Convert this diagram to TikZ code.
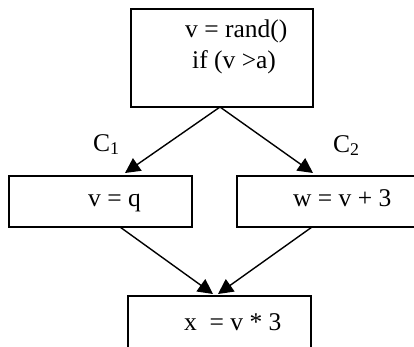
\documentclass[tikz,border=0pt]{standalone}
\usepackage{fontspec}
\setmainfont{Liberation Serif}
\usetikzlibrary{arrows.meta}
\begin{document}
\begin{tikzpicture}[x=1pt,y=-1pt,
  box/.style={draw,line width=1.4pt,inner sep=0pt},
  txt/.style={anchor=base west,inner sep=0pt,font=\fontsize{25.5}{30}\selectfont},
  arr/.style={line width=1.4pt,-{Triangle[length=15pt,width=15pt]}}]
\useasboundingbox (0,0) rectangle (414,346);
\clip (0,0) rectangle (414,346);
% boxes
\node[box,minimum width=182pt,minimum height=98pt] (top) at (222,58) {};
\node[box,minimum width=183pt,minimum height=51pt] (left) at (100.5,201.5) {};
\node[box,minimum width=180pt,minimum height=51pt] (right) at (327,201.5) {};
\node[box,minimum width=183pt,minimum height=70pt] (bot) at (219.5,331) {};
% texts
\node[txt] (t1) at (185,37) {v = rand()};
\node[txt] (t2) at (192,68) {if (v >a)};
\node[txt] (t3) at (88,206) {v = q};
\node[txt] (t4) at (293,206) {w = v + 3};
\node[txt] (t5) at (184,330) {x\ \ = v * 3};
\node[txt] (c1) at (93,151) {C\textsubscript{1}};
\node[txt] (c2) at (333,152) {C\textsubscript{2}};
% tips and starts
\coordinate (s) at (220,107);
\coordinate (p1) at (125,173);
\coordinate (p2) at (313,173);
\coordinate (l1) at (120,227);
\coordinate (r1) at (312,227);
\coordinate (q1) at (213,294);
\coordinate (q2) at (218,294);
\draw[arr] (s) -- (p1);
\draw[arr] (s) -- (p2);
\draw[arr] (l1) -- (q1);
\draw[arr] (r1) -- (q2);
\end{tikzpicture}
\end{document}
